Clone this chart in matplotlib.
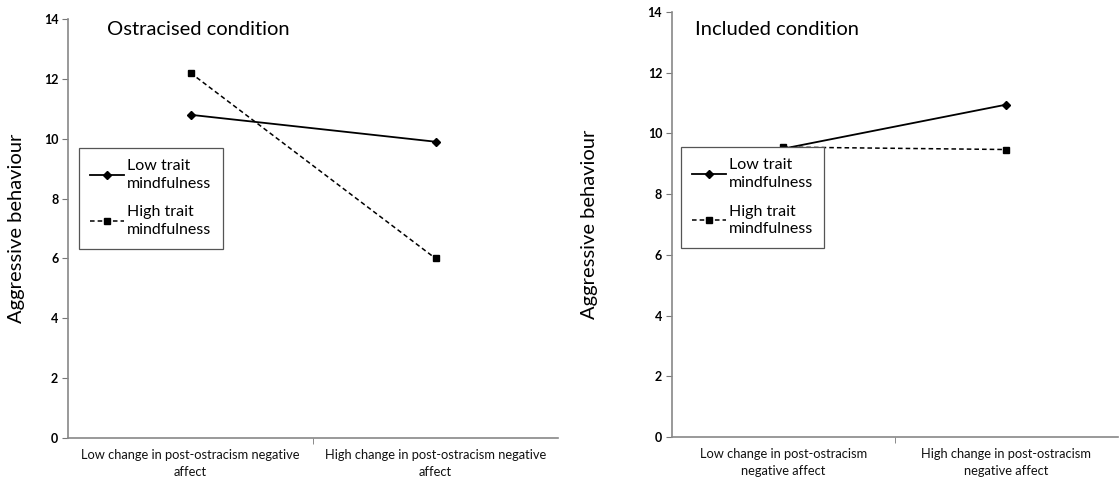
import matplotlib
matplotlib.use('Agg')
import numpy as np
import matplotlib.pyplot as plt

plt.rcParams['font.family'] = ['Lato', 'DejaVu Sans']

# data
ostr_low = [10.8, 9.9]
ostr_high = [12.2, 6.0]
incl_low = [9.5, 10.95]
incl_high = [9.55, 9.47]
ostr_labels = ['Low change in post-ostracism negative\naffect',
               'High change in post-ostracism negative\naffect']
incl_labels = ['Low change in post-ostracism\nnegative affect',
               'High change in post-ostracism\nnegative affect']
series_names = ['Low trait\nmindfulness', 'High trait\nmindfulness']
yticks = [0, 2, 4, 6, 8, 10, 12, 14]

fig = plt.figure(figsize=(11.19, 4.84), dpi=100)
ax1 = fig.add_axes([0.0608, 0.095, 0.4379, 0.8657])
ax2 = fig.add_axes([0.6005, 0.0971, 0.3985, 0.8781])


def draw(ax, low, high, labels, title, title_pos, leg_box, ylab_x):
    x = np.arange(len(low)) + 0.5
    ax.plot(x, low, '-', color='black', lw=1.3, marker='D', ms=4,
            label=series_names[0], zorder=3)
    ax.plot(x, high, '--', color='black', lw=1.1, marker='s', ms=5,
            dashes=(3, 2), label=series_names[1], zorder=3)
    ax.set_xlim(0, 2)
    ax.set_ylim(0, 14)
    ax.set_yticks(yticks)
    ax.set_yticklabels([str(t) for t in yticks], fontsize=9, fontweight='bold')
    ax.set_xticks(x)
    ax.set_xticklabels(labels, fontsize=9.3, color='#111111', linespacing=1.45)
    ax.tick_params(axis='x', length=0, pad=8)
    ax.set_xticks([1], minor=True)
    ax.tick_params(axis='x', which='minor', length=4, direction='out', color='#777777')
    ax.tick_params(axis='y', length=4, direction='out', color='#777777', pad=3)
    for s in ['top', 'right']:
        ax.spines[s].set_visible(False)
    for s in ['left', 'bottom']:
        ax.spines[s].set_color('#888888')
        ax.spines[s].set_linewidth(1.2)
    ax.set_ylabel('Aggressive behaviour', fontsize=14.5)
    ax.yaxis.set_label_coords(ylab_x, 0.5)
    ax.text(title_pos[0], title_pos[1], title, transform=ax.transAxes,
            fontsize=14.5, ha='left', va='center')
    leg = ax.legend(loc='upper left', bbox_to_anchor=leg_box, fontsize=11.5,
                    frameon=True, fancybox=False, framealpha=1,
                    edgecolor='#555555', handlelength=2.1, handletextpad=0.2,
                    labelspacing=0.9, borderpad=0.7, borderaxespad=0)
    leg.get_frame().set_linewidth(0.9)
    leg.set_zorder(5)
    for t in leg.get_texts():
        t.set_linespacing(1.35)


draw(ax1, ostr_low, ostr_high, ostr_labels, 'Ostracised condition',
     (0.08, 0.976), (0.023, 0.692), -0.088)
draw(ax2, incl_low, incl_high, incl_labels, 'Included condition',
     (0.052, 0.96), (0.02, 0.682), -0.166)

fig.savefig('out.png', dpi=100)
